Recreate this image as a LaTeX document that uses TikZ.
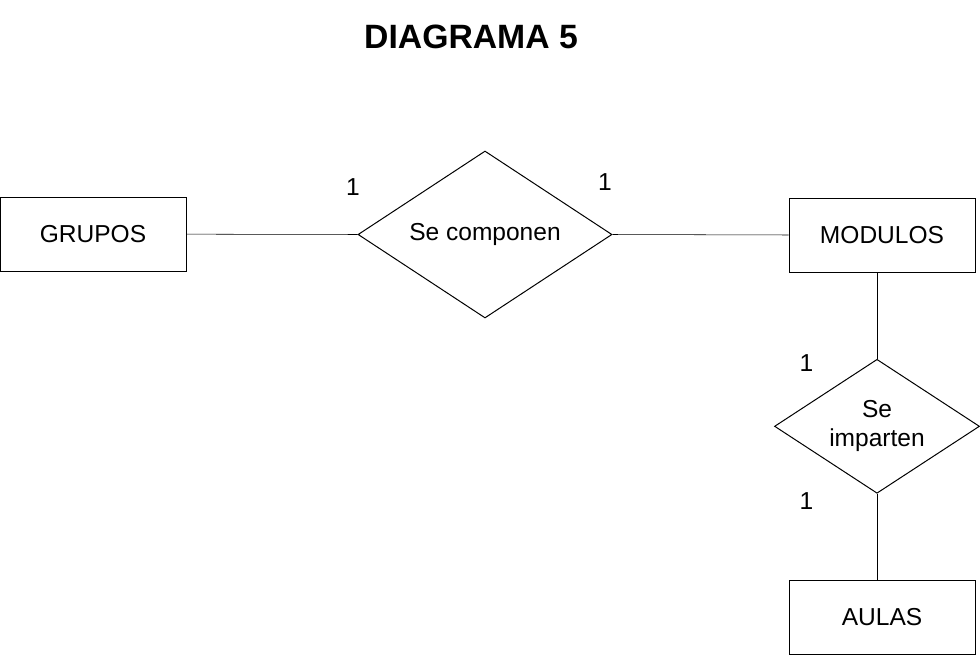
\documentclass[tikz,border=0pt]{standalone}
\usepackage{fontspec}
\setmainfont{Liberation Sans}
\usetikzlibrary{shapes.geometric, positioning}
\tikzset{
    entity/.style={rectangle, draw, minimum width=139.5pt, minimum height=55.5pt, inner sep=0pt, align=center, font=\fontsize{18.4}{22}\selectfont},
    relation/.style={diamond, draw, inner sep=0pt, align=center, font=\fontsize{18.4}{22}\selectfont},
    card/.style={inner sep=0pt, font=\fontsize{18.4}{22}\selectfont},
    link/.style={thin},
}
\begin{document}
\begin{tikzpicture}[x=0.75pt, y=-0.75pt, line width=0.75pt]
    \useasboundingbox (0,0) rectangle (980,656);
    \node[font=\bfseries\fontsize{25.3}{29}\selectfont] (title) at (471,37) {DIAGRAMA 5};
    \node[entity] (grupos) at (93,234) {GRUPOS};
    \node[relation, aspect=1.52, minimum width=190.5pt, minimum height=125.25pt] (secomp) at (485,234.5) {Se componen};
    \node[entity] (modulos) at (882,235) {MODULOS};
    \node[relation, aspect=1.53, minimum width=153.75pt, minimum height=100.5pt] (seimp) at (877,426.3) {Se\\imparten};
    \node[entity] (aulas) at (882,617) {AULAS};
    \node[card] (c1) at (353,187) {1};
    \node[card] (c2) at (605,182) {1};
    \node[card] (c3) at (806.5,363) {1};
    \node[card] (c4) at (806.5,501) {1};
    \draw[link] (grupos) -- (secomp.west);
    \draw[link] (secomp.east) -- (modulos.west);
    \draw[link] (seimp.north) -- (seimp.north |- modulos.south);
    \draw[link] (seimp.south) -- (seimp.south |- aulas.north);
\end{tikzpicture}
\end{document}
